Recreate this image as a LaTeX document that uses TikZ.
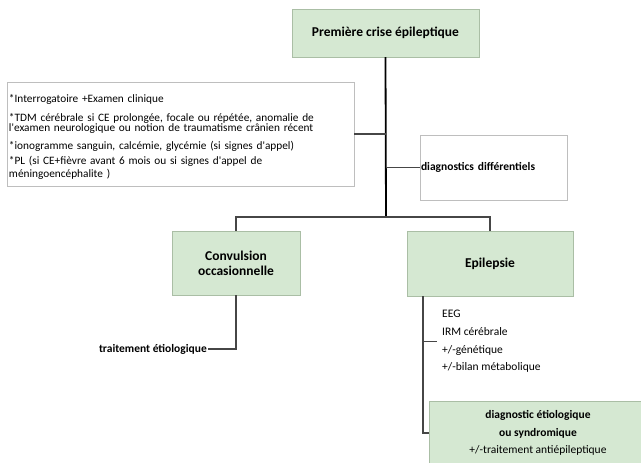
\documentclass[tikz,border=0pt]{standalone}
\usepackage{fontspec}
\setmainfont{Carlito}[Ligatures=TeXOff]
\usepackage{tikz}
\usetikzlibrary{positioning,calc}
\definecolor{boxgreen}{RGB}{213,232,210}
\definecolor{greenrule}{RGB}{170,190,165}
\definecolor{grayrule}{RGB}{190,190,190}
\definecolor{linkgray}{RGB}{70,70,70}
\newcommand{\infofont}{\fontsize{11.3}{10}\selectfont\lineskiplimit=-8pt\relax}

\begin{document}
\begin{tikzpicture}[x=1pt,y=-1pt,
  greenbox/.style={draw=greenrule,fill=boxgreen,font=\bfseries\fontsize{13.5}{15}\selectfont,align=center,inner sep=0pt},
  whitebox/.style={draw=grayrule,fill=white,inner sep=1pt},
  smallbold/.style={font=\bfseries\fontsize{11.5}{12}\selectfont},
  link/.style={draw=linkgray,line width=1.2pt},
  trunk/.style={draw=black,line width=1.8pt}]
  \clip (0,0) rectangle (641,463);
  \fill[white] (0,0) rectangle (641,463);
  % top box
  \node[greenbox,minimum width=187,minimum height=48] (crise) at (385.5,33) {Première crise épileptique};
  % left info box
  \node[whitebox,font={\infofont},minimum width=347,minimum height=104,text width=343,align=left] (bilan) at (180.5,134)
    {\rule{0pt}{14pt}*Interrogatoire +Examen clinique\\[9pt]
     *TDM cérébrale si CE prolongée, focale ou répétée, anomalie de\\
     l'examen neurologique ou notion de traumatisme crânien récent\\[8pt]
     *ionogramme sanguin, calcémie, glycémie (si signes d'appel)\\[5pt]
     *PL (si CE+fièvre avant 6 mois ou si signes d'appel de\\[3pt]
     méningoencéphalite )};
  % differential diagnosis
  \node[whitebox,smallbold,minimum width=147,minimum height=65,text width=145,align=left] (diff) at (493.5,167.5) {diagnostics différentiels};
  % the two branches
  \coordinate (hub) at (386,217);
  \node[greenbox,minimum width=128,minimum height=64] (conv) at (236,263) {Convulsion\\occasionnelle};
  \node[greenbox,minimum width=166,minimum height=65] (epi) at (490,263.5) {Epilepsie};
  \node[smallbold,anchor=east,inner sep=1pt] (trait) at (208,349) {traitement étiologique};
  \node[font=\fontsize{11.5}{12}\selectfont,anchor=west,align=left,inner sep=0pt] (examens) at (442,341.5)
    {EEG\\[5.7pt]IRM cérébrale\\[5.7pt]+/-génétique\\[5.7pt]+/-bilan métabolique};
  \node[greenbox,font=\fontsize{11.5}{12}\selectfont,minimum width=218,minimum height=64] (synd) at (538,433)
    {\textbf{diagnostic étiologique}\\[5.5pt]\textbf{ou syndromique}\\[5.5pt]+/-traitement antiépileptique};
  \coordinate (epiline) at (423,296);

  % connectors
  \draw[trunk] (crise.south) -- (hub);
  \draw[link] (conv.north) |- (hub) -| (epi.north);
  \draw[link] (bilan.east) -- (bilan.east -| crise.south);
  \draw[link] (diff.west -| crise.south) -- (diff.west);
  \draw[link] (conv.south) |- (trait.east);
  \draw[link] (epiline) |- (synd.west);
  \draw[link] (examens.west -| epiline) -- ++(14,0);
\end{tikzpicture}
\end{document}
